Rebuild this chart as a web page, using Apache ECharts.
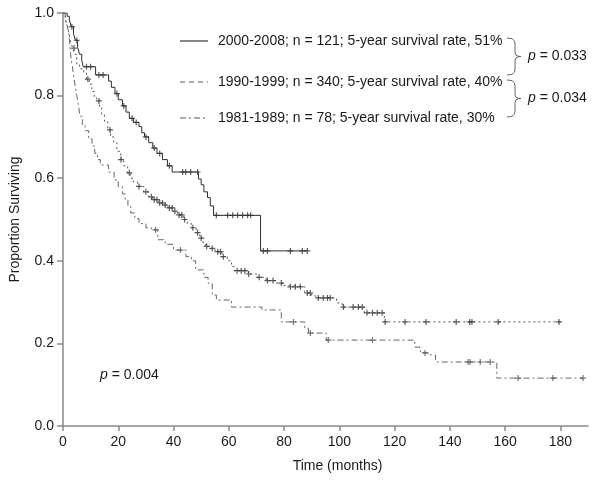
<!DOCTYPE html>
<html>
<head>
<meta charset="utf-8">
<script src="https://cdn.jsdelivr.net/npm/echarts@6/dist/echarts.min.js"></script>
<style>
html,body{margin:0;padding:0;background:#fff;}
#chart{width:600px;height:481px;}
</style>
</head>
<body>
<div id="chart"></div>
<script>
// ---- Data (time in months, proportion surviving) ----
var xTicks = [0, 20, 40, 60, 80, 100, 120, 140, 160, 180];
var yTicks = [0, 0.2, 0.4, 0.6, 0.8, 1.0];

var legendLabels = [
  '2000-2008; n = 121; 5-year survival rate, 51%',
  '1990-1999; n = 340; 5-year survival rate, 40%',
  '1981-1989; n = 78; 5-year survival rate, 30%'
];
var pairP = ['0.033', '0.034'];
var overallP = '0.004';

var events2000 = [[0,1],[1.5,0.992],[2.3,0.983],[3,0.967],[3.8,0.95],[4.5,0.934],[5.3,0.917],[6,0.9],[6.8,0.885],[7.3,0.87],[11.8,0.85],[16.5,0.835],[17.5,0.82],[18.8,0.805],[20,0.79],[21.5,0.775],[22.8,0.76],[24,0.745],[25.5,0.735],[27.5,0.725],[28.5,0.71],[29.5,0.70],[31,0.686],[32.5,0.673],[34,0.66],[36,0.645],[37.8,0.63],[39.5,0.615],[49,0.598],[50,0.584],[51,0.567],[52.3,0.553],[53.3,0.533],[54.5,0.51],[71.5,0.424],[88.5,0.424]];
var censor2000 = [3.2,5,8.5,10,13,14.5,19.5,22,25,26.5,30,33,35,38.5,43.3,44.4,46.2,48.7,55.5,59.6,61.4,63.2,65,66.8,67.9,72.5,74,82.3,86.6,88.4];

var events1990 = [[0,1],[0.8,0.985],[1.5,0.97],[2.2,0.95],[2.8,0.93],[3.5,0.915],[4.2,0.9],[5,0.875],[6,0.865],[7.5,0.855],[8.5,0.84],[9.5,0.828],[10.4,0.81],[11.3,0.798],[12.2,0.787],[13.2,0.77],[14,0.754],[15,0.736],[16.2,0.717],[17.2,0.70],[18.3,0.686],[19.5,0.665],[20.9,0.645],[22,0.63],[23.4,0.613],[24.5,0.60],[25.5,0.591],[27,0.58],[29.2,0.567],[31,0.555],[32.4,0.548],[34.5,0.54],[36.4,0.535],[38,0.528],[40,0.52],[41.5,0.511],[43.5,0.5],[45,0.49],[46.5,0.48],[48.2,0.468],[49.5,0.455],[50.5,0.445],[51.5,0.435],[53,0.43],[55,0.422],[57.5,0.41],[59.5,0.40],[61,0.386],[62,0.376],[67,0.368],[70,0.36],[73.5,0.352],[77,0.346],[80,0.34],[82,0.337],[87.5,0.322],[90,0.315],[91.5,0.31],[99,0.298],[101,0.288],[109,0.274],[116.3,0.252],[180,0.252]];
var censor1990 = [4,9,13,17,21,24,27.5,30,32,33,34,35,36,37,38.5,39.5,40.5,42,43,44,47,48.7,50,52,54,56,57,58,63,64.5,65.8,67.2,71,74,76,79,82.3,84.1,85.9,88.4,89.5,92.4,94.2,95.7,96.7,101.5,105,106.9,108.3,110,112,113.7,115.5,116.6,123.8,131.4,142.3,147.2,148,157.5,179.5];

var events1981 = [[0,1],[0.8,0.985],[1.5,0.97],[2.1,0.952],[2.5,0.92],[2.9,0.89],[3.4,0.87],[3.9,0.845],[4.5,0.82],[5,0.8],[5.6,0.775],[6.2,0.75],[7,0.73],[8,0.715],[9.3,0.695],[10.5,0.678],[11.5,0.66],[12.5,0.645],[13.5,0.632],[16.5,0.615],[18.5,0.596],[20,0.579],[21.5,0.562],[22.5,0.548],[23.5,0.531],[24.5,0.516],[26,0.502],[27.5,0.49],[30,0.48],[32,0.475],[34.3,0.451],[37,0.44],[40,0.426],[44.5,0.41],[46.5,0.40],[48,0.378],[51,0.36],[52.5,0.346],[54,0.317],[55.5,0.305],[61,0.288],[72,0.281],[79,0.252],[87.5,0.237],[88.8,0.225],[95.3,0.208],[127.3,0.191],[129.3,0.177],[133,0.172],[134.8,0.155],[157,0.116],[188.2,0.116]];
var censor1981 = [33.5,42.5,83.4,89.5,96,112,131,146.6,147.3,151,154.6,164.7,177.3,188.2];

// survival level of a step curve at time t (value after the last event <= t)
function levelAt(events, t) {
  var s = events[0][1];
  for (var i = 0; i < events.length; i++) {
    if (events[i][0] <= t) s = events[i][1]; else break;
  }
  return s;
}
function censorPoints(events, times) {
  return times.map(function (t) { return [t, levelAt(events, t)]; });
}

var plusSymbol = 'path://M4,0H6V4H10V6H6V10H4V6H0V4H4Z';
var FONT = 'Liberation Sans, Arial, sans-serif';
var axisColor = '#8a8a8a';
var textColor = '#1a1a1a';

var chart = echarts.init(document.getElementById('chart'), null, {renderer: 'canvas'});

function lineSeries(data, color, type) {
  return {
    type: 'line', data: data, step: 'end', showSymbol: false, symbol: 'none',
    lineStyle: {color: color, width: 1, type: type}, silent: true, z: 2
  };
}
function censorSeries(data, color) {
  return {
    type: 'scatter', data: data, symbol: plusSymbol, symbolSize: 6,
    itemStyle: {color: color}, silent: true, z: 3
  };
}

// legend graphics
var legendY = [41, 82, 118];
var legendDash = [null, [5, 4], [6, 3, 2, 3]];
var graphics = [];
legendY.forEach(function (y, i) {
  graphics.push({
    type: 'line', shape: {x1: 180, y1: y, x2: 208, y2: y},
    style: {stroke: i === 0 ? '#333' : '#555', lineWidth: 1.2, lineDash: legendDash[i]}
  });
  graphics.push({
    type: 'text', x: 218, y: y,
    style: {text: legendLabels[i], font: '14px ' + FONT, fill: textColor, textVerticalAlign: 'middle', textAlign: 'left'}
  });
});
function bracePoints(top, bottom) {
  var mid = (top + bottom) / 2;
  return [[507, top], [512, top + 0.6], [514.5, top + 3], [515, top + 6],
    [515, mid - 4], [515.8, mid - 1.5], [518, mid - 0.3], [521, mid],
    [518, mid + 0.3], [515.8, mid + 1.5], [515, mid + 4],
    [515, bottom - 6], [514.5, bottom - 3], [512, bottom - 0.6], [507, bottom]];
}
[[38, 75], [80, 117]].forEach(function (b, i) {
  graphics.push({
    type: 'polyline', shape: {points: bracePoints(b[0], b[1])},
    style: {stroke: '#666', lineWidth: 1, fill: null}
  });
  graphics.push({
    type: 'text', x: 528, y: (b[0] + b[1]) / 2,
    style: {
      text: '{i|p} = ' + pairP[i],
      rich: {i: {fontStyle: 'italic', fontFamily: FONT, fontSize: 14, fill: textColor}},
      font: '14px ' + FONT, fill: textColor, textVerticalAlign: 'middle'
    }
  });
});
graphics.push({
  type: 'text', x: 100, y: 375,
  style: {
    text: '{i|p} = ' + overallP,
    rich: {i: {fontStyle: 'italic', fontFamily: FONT, fontSize: 14, fill: textColor}},
    font: '14px ' + FONT, fill: textColor, textVerticalAlign: 'middle'
  }
});

var option = {
  animation: false,
  backgroundColor: '#fff',
  grid: {left: 62, right: 12, top: 13, bottom: 55, containLabel: false},
  xAxis: {
    type: 'value', min: 0, max: 190, interval: 20,
    name: 'Time (months)', nameLocation: 'middle', nameGap: 33,
    nameTextStyle: {fontFamily: FONT, fontSize: 14, color: textColor, padding: [0, 0, 0, 24]},
    axisLine: {show: true, lineStyle: {color: axisColor, width: 1.5}},
    axisTick: {show: true, length: 5, lineStyle: {color: axisColor, width: 1.5}, customValues: xTicks},
    axisLabel: {fontFamily: FONT, fontSize: 14, color: textColor, margin: 9, customValues: xTicks},
    splitLine: {show: false}
  },
  yAxis: {
    type: 'value', min: 0, max: 1, interval: 0.2,
    name: 'Proportion Surviving', nameLocation: 'middle', nameGap: 41, nameRotate: 90,
    nameTextStyle: {fontFamily: FONT, fontSize: 14, color: textColor},
    axisLine: {show: true, lineStyle: {color: axisColor, width: 1.5}},
    axisTick: {show: true, length: 6, lineStyle: {color: axisColor, width: 1.5}, customValues: yTicks},
    axisLabel: {fontFamily: FONT, fontSize: 14, color: textColor, margin: 9, customValues: yTicks,
      formatter: function (v) { return v.toFixed(1); }},
    splitLine: {show: false}
  },
  series: [
    lineSeries(events2000, '#2e2e2e', 'solid'),
    lineSeries(events1990, '#555', [2, 3]),
    lineSeries(events1981, '#666', [6, 3, 2, 3]),
    censorSeries(censorPoints(events2000, censor2000), '#333'),
    censorSeries(censorPoints(events1990, censor1990), '#333'),
    censorSeries(censorPoints(events1981, censor1981), '#555')
  ],
  graphic: graphics
};
chart.setOption(option);
</script>
</body>
</html>
